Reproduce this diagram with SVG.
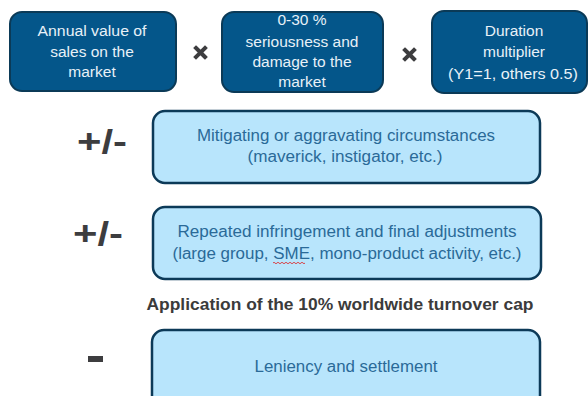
<svg xmlns="http://www.w3.org/2000/svg" width="588" height="396" viewBox="0 0 588 396">
  <style>
    .dark { fill: #04568a; stroke: #0b3a57; stroke-width: 2; }
    .light { fill: #b8e5fc; stroke: #0c3a58; stroke-width: 2.5; }
    .dt { font-family: "Liberation Sans", Arial, sans-serif; font-size: 15.5px; fill: #e8f1f8; text-anchor: middle; }
    .lt { font-family: "Liberation Sans", Arial, sans-serif; font-size: 16px; fill: #2a6a98; text-anchor: middle; }
    .op { font-family: "Liberation Sans", Arial, sans-serif; font-weight: bold; font-size: 34px; fill: #3d3d3f; text-anchor: middle; }
    .cap { font-family: "Liberation Sans", Arial, sans-serif; font-weight: bold; font-size: 16px; fill: #3b3b3b; text-anchor: middle; }
    .times { stroke: #3d3d3f; stroke-width: 4; stroke-linecap: square; fill: none; }
  </style>

  <!-- Top row: factors of the basic amount -->
  <g id="sales-value">
    <rect class="dark" x="10" y="12" width="166" height="79" rx="12"/>
    <text class="dt" x="92" y="36" textLength="109" lengthAdjust="spacingAndGlyphs">Annual value of</text>
    <text class="dt" x="92" y="57">sales on the</text>
    <text class="dt" x="92" y="77">market</text>
  </g>
  <g id="times-1">
    <path class="times" d="M196 48 L205 57 M205 48 L196 57"/>
  </g>
  <g id="seriousness">
    <rect class="dark" x="222" y="12" width="161" height="80" rx="12"/>
    <text class="dt" x="302" y="25">0-30 %</text>
    <text class="dt" x="302" y="47">seriousness and</text>
    <text class="dt" x="302" y="67">damage to the</text>
    <text class="dt" x="302" y="87">market</text>
  </g>
  <g id="times-2">
    <path class="times" d="M405 50 L414 59 M414 50 L405 59"/>
  </g>
  <g id="duration">
    <rect class="dark" x="432" y="11" width="155" height="82" rx="12"/>
    <text class="dt" x="514" y="36">Duration</text>
    <text class="dt" x="514" y="57">multiplier</text>
    <text class="dt" x="513" y="79" textLength="130" lengthAdjust="spacingAndGlyphs">(Y1=1, others 0.5)</text>
  </g>

  <!-- Adjustments -->
  <g id="op-1">
    <text class="op" x="102" y="153" textLength="50" lengthAdjust="spacingAndGlyphs">+/-</text>
  </g>
  <g id="circumstances">
    <rect class="light" x="153" y="111" width="387" height="72" rx="12"/>
    <text class="lt" x="346" y="141" textLength="298" lengthAdjust="spacingAndGlyphs">Mitigating or aggravating circumstances</text>
    <text class="lt" x="345" y="162" textLength="195" lengthAdjust="spacingAndGlyphs">(maverick, instigator, etc.)</text>
  </g>

  <g id="op-2">
    <text class="op" x="98" y="245" textLength="50" lengthAdjust="spacingAndGlyphs">+/-</text>
  </g>
  <g id="repeated">
    <rect class="light" x="153" y="207" width="388" height="72" rx="12"/>
    <text class="lt" x="347" y="237" textLength="339" lengthAdjust="spacingAndGlyphs">Repeated infringement and final adjustments</text>
    <text class="lt" x="347" y="259" textLength="349" lengthAdjust="spacingAndGlyphs">(large group, SME, mono-product activity, etc.)</text>
    <!-- spelling squiggle under "SME" -->
    <path d="M273 263 q1 -1.5 2 0 t2 0 t2 0 t2 0 t2 0 t2 0 t2 0 t2 0 t2 0 t2 0 t2 0 t2 0 t2 0 t2 0 t2 0 t2 0" fill="none" stroke="#e02020" stroke-width="0.8"/>
  </g>

  <g id="cap">
    <text class="cap" x="340" y="310" textLength="387" lengthAdjust="spacingAndGlyphs">Application of the 10% worldwide turnover cap</text>
  </g>

  <g id="op-3">
    <rect x="88" y="356" width="15" height="6" fill="#3d3d3f"/>
  </g>
  <g id="leniency">
    <rect class="light" x="152" y="330" width="388" height="80" rx="12"/>
    <text class="lt" x="346" y="372" textLength="183" lengthAdjust="spacingAndGlyphs">Leniency and settlement</text>
  </g>

  <!-- Connectors: none in this layout -->
  <g id="connectors"/>
</svg>
